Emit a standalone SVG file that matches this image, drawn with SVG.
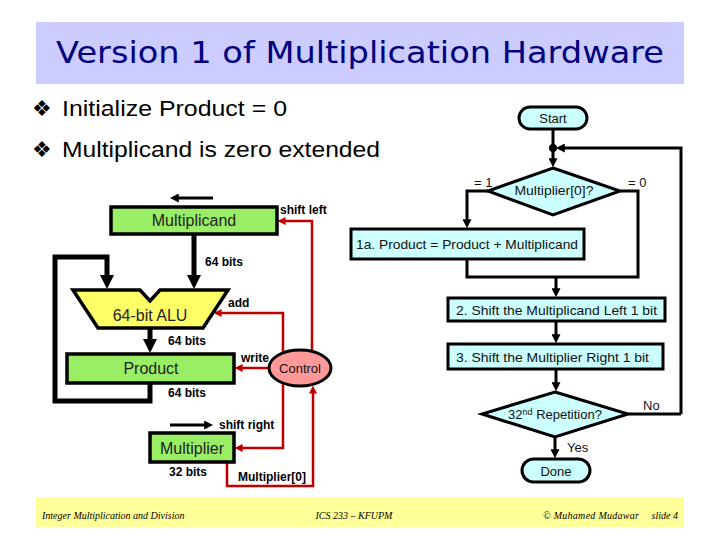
<svg xmlns="http://www.w3.org/2000/svg" width="720" height="540" viewBox="0 0 720 540">
<defs>
<style>
.bg{fill:#ffffff}
.title{font-family:"DejaVu Sans",sans-serif;font-size:30px;fill:#000080}
.bul{font-family:"Liberation Sans",Arial,sans-serif;font-size:22px;fill:#000}
.reg{stroke:#000;stroke-width:3.5}
.green{fill:#99ee66}
.lbl{font-family:"Liberation Sans",Arial,sans-serif;font-size:16px;fill:#222}
.bold{font-family:"Liberation Sans",Arial,sans-serif;font-size:12px;font-weight:bold;fill:#000}
.fc{font-family:"Liberation Sans",Arial,sans-serif;font-size:13px;fill:#111}
.fbox{fill:#ccffff;stroke:#000;stroke-width:3}
.fline{fill:none;stroke:#000;stroke-width:3}
.thick{fill:none;stroke:#000;stroke-width:5}
.red{fill:none;stroke:#c00000;stroke-width:2.5}
.foot{font-family:"Liberation Serif","Times New Roman",serif;font-style:italic;font-size:10px;fill:#000}
</style>
<marker id="bigArr" viewBox="0 0 14 14" refX="2" refY="7" markerWidth="14" markerHeight="14" markerUnits="userSpaceOnUse" orient="auto">
<path d="M0,0 L14,7 L0,14 z" fill="#000"/>
</marker>
<marker id="smArr" viewBox="0 0 10 10" refX="2" refY="5" markerWidth="9" markerHeight="9" markerUnits="userSpaceOnUse" orient="auto">
<path d="M0,0 L10,5 L0,10 z" fill="#000"/>
</marker>
<marker id="redArr" viewBox="0 0 10 10" refX="2" refY="5" markerWidth="8" markerHeight="8" markerUnits="userSpaceOnUse" orient="auto">
<path d="M0,0 L10,5 L0,10 z" fill="#c00000"/>
</marker>
</defs>
<rect class="bg" width="720" height="540"/>

<g id="title">
<rect x="36" y="22" width="648" height="62" fill="#ccccff"/>
<text class="title" x="360" y="63" text-anchor="middle" textLength="608" lengthAdjust="spacingAndGlyphs">Version 1 of Multiplication Hardware</text>
</g>

<g id="bullets">
<text class="bul" x="32" y="116" font-family="DejaVu Sans" font-size="17">❖</text>
<text class="bul" x="62" y="116" textLength="225" lengthAdjust="spacingAndGlyphs">Initialize Product = 0</text>
<text class="bul" x="32" y="157" font-family="DejaVu Sans" font-size="17">❖</text>
<text class="bul" x="62" y="157" textLength="318" lengthAdjust="spacingAndGlyphs">Multiplicand is zero extended</text>
</g>

<g id="footer">
<rect x="36" y="497" width="648" height="30" fill="#ffff99"/>
<text class="foot" x="42" y="519">Integer Multiplication and Division</text>
<text class="foot" x="354" y="519" text-anchor="middle">ICS 233 – KFUPM</text>
<text class="foot" x="543" y="519" textLength="96" lengthAdjust="spacing">© Muhamed Mudawar</text>
<text class="foot" x="678" y="519" text-anchor="end">slide 4</text>
</g>

<g id="connectors">
<line x1="213" y1="198" x2="177" y2="198" stroke="#000" stroke-width="3" marker-end="url(#smArr)"/>
<line x1="170" y1="425" x2="206" y2="425" stroke="#000" stroke-width="3" marker-end="url(#smArr)"/>
<line class="thick" x1="194" y1="234" x2="194" y2="277" marker-end="url(#bigArr)"/>
<path class="thick" d="M150,383 V401 H55 V257 H107 V277" marker-end="url(#bigArr)"/>
<line class="thick" x1="150" y1="328" x2="150" y2="341" marker-end="url(#bigArr)"/>
<path class="red" d="M312,360 V221 H284" marker-end="url(#redArr)"/>
<path class="red" d="M283,360 V313 H220" marker-end="url(#redArr)"/>
<path class="red" d="M272,368 H241" marker-end="url(#redArr)"/>
<path class="red" d="M283,376 V448 H241" marker-end="url(#redArr)"/>
<path class="red" d="M227,462 V486 H313 V392" marker-end="url(#redArr)"/>
<line class="fline" x1="553" y1="129" x2="553" y2="160" marker-end="url(#smArr)"/>
<path class="fline" d="M681,414 V148 H563" marker-end="url(#smArr)"/>
<circle cx="553" cy="148" r="4" fill="#000"/>
<path class="fline" d="M488,191 H467 V221" marker-end="url(#smArr)"/>
<path class="fline" d="M620,191 H638 V277 H467 V259"/>
<line class="fline" x1="556" y1="277" x2="556" y2="290" marker-end="url(#smArr)"/>
<line class="fline" x1="556" y1="321" x2="556" y2="336" marker-end="url(#smArr)"/>
<line class="fline" x1="556" y1="369" x2="556" y2="384" marker-end="url(#smArr)"/>
<path class="fline" d="M628,414 H681"/>
<line class="fline" x1="555" y1="437" x2="555" y2="451" marker-end="url(#smArr)"/>
</g>

<g id="multiplicand">
<rect class="reg green" x="111" y="207" width="166" height="27"/>
<text class="lbl" x="194" y="226" text-anchor="middle">Multiplicand</text>
</g>
<g id="alu">
<path d="M73,290 H140 L150,301 L160,290 H228 L203,328 H98 Z" fill="#ffff66" stroke="#000" stroke-width="3.5"/>
<text class="lbl" x="150" y="321" text-anchor="middle">64-bit ALU</text>
</g>
<g id="product">
<rect class="reg green" x="67" y="354" width="167" height="29"/>
<text class="lbl" x="151" y="374" text-anchor="middle">Product</text>
</g>
<g id="multiplier">
<rect class="reg green" x="150" y="433" width="84" height="29"/>
<text class="lbl" x="192" y="454" text-anchor="middle">Multiplier</text>
</g>
<g id="control">
<ellipse cx="300" cy="368" rx="31" ry="18" fill="#ff9999" stroke="#000" stroke-width="3"/>
<text class="fc" x="300" y="373" text-anchor="middle">Control</text>
</g>

<g id="labels">
<text class="bold" x="280" y="214">shift left</text>
<text class="bold" x="205" y="266">64 bits</text>
<text class="bold" x="228" y="307">add</text>
<text class="bold" x="168" y="345">64 bits</text>
<text class="bold" x="241" y="362">write</text>
<text class="bold" x="168" y="397">64 bits</text>
<text class="bold" x="219" y="429">shift right</text>
<text class="bold" x="169" y="476">32 bits</text>
<text class="bold" x="238" y="481">Multiplier[0]</text>
</g>

<g id="start">
<rect class="fbox" x="519" y="107" width="68" height="22" rx="11"/>
<text class="fc" x="553" y="123" text-anchor="middle">Start</text>
</g>
<g id="decision1">
<path class="fbox" d="M553,168 L620,191 L553,215 L488,191 Z"/>
<text class="fc" x="554" y="195" text-anchor="middle" textLength="79" lengthAdjust="spacingAndGlyphs">Multiplier[0]?</text>
<text class="fc" x="474" y="187">= 1</text>
<text class="fc" x="628" y="187">= 0</text>
</g>
<g id="step1a">
<rect class="fbox" x="351" y="229" width="233" height="30"/>
<text class="fc" x="356" y="249" textLength="222" lengthAdjust="spacingAndGlyphs">1a. Product = Product + Multiplicand</text>
</g>
<g id="step2">
<rect class="fbox" x="448" y="298" width="217" height="23"/>
<text class="fc" x="456" y="315" textLength="201" lengthAdjust="spacingAndGlyphs">2. Shift the Multiplicand Left 1 bit</text>
</g>
<g id="step3">
<rect class="fbox" x="448" y="344" width="215" height="25"/>
<text class="fc" x="456" y="362" textLength="193" lengthAdjust="spacingAndGlyphs">3. Shift the Multiplier Right 1 bit</text>
</g>
<g id="decision2">
<path class="fbox" d="M555,392 L628,414 L555,437 L482,414 Z"/>
<text class="fc" x="555" y="419" text-anchor="middle">32<tspan font-size="9" dy="-4">nd</tspan><tspan dy="4"> Repetition?</tspan></text>
<text class="fc" x="643" y="410">No</text>
<text class="fc" x="567" y="452">Yes</text>
</g>
<g id="done">
<rect class="fbox" x="522" y="459" width="68" height="23" rx="11.5"/>
<text class="fc" x="556" y="476" text-anchor="middle">Done</text>
</g>
</svg>
